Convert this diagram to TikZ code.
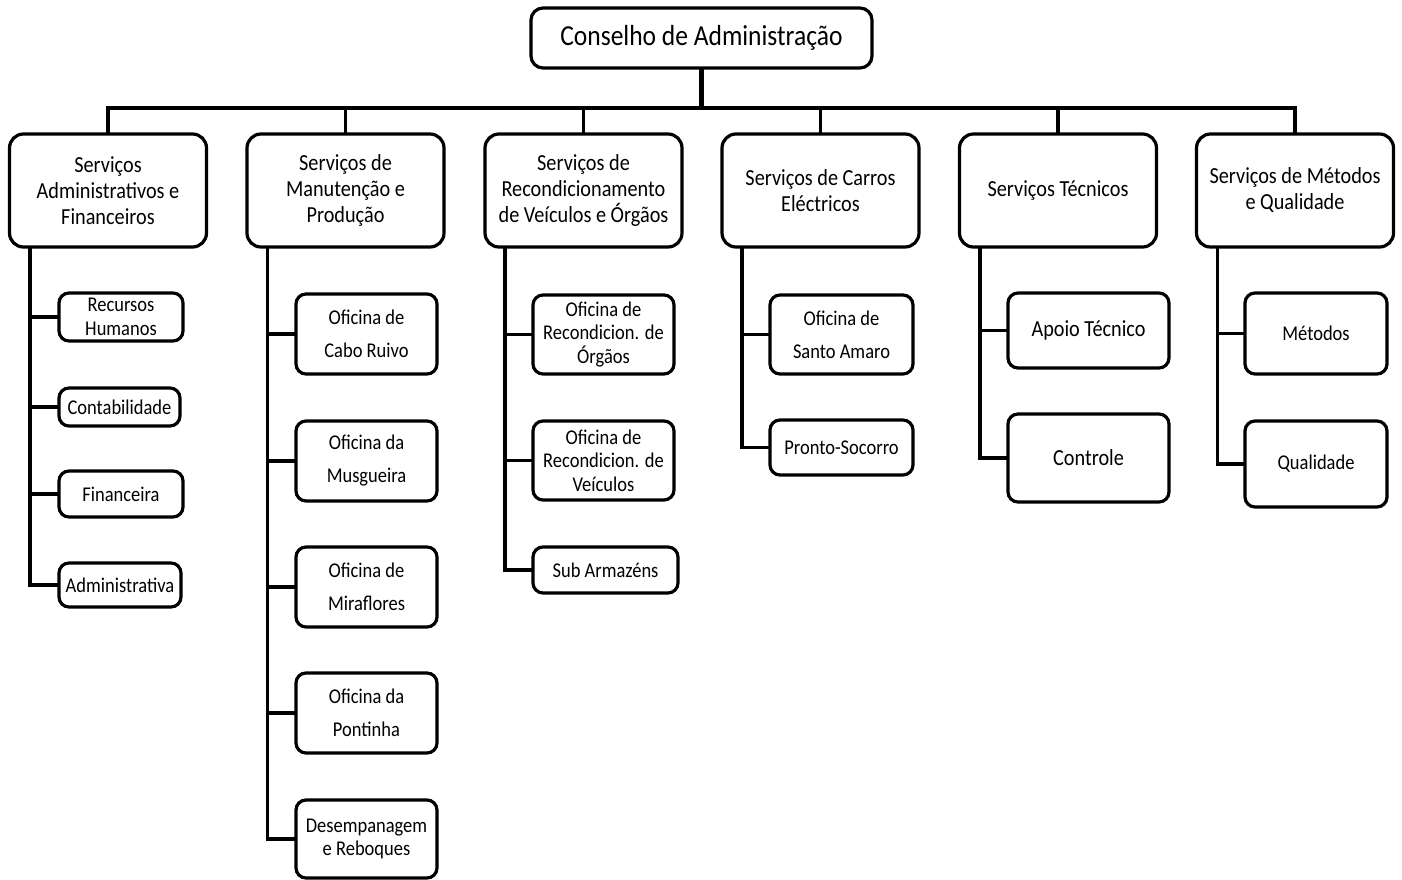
\documentclass[tikz,border=0pt]{standalone}
\usepackage{fontspec}
\setmainfont{Carlito}[FakeStretch=0.88]
\begin{document}
\begin{tikzpicture}[x=1pt,y=-1pt,
  box/.style={draw=black, line width=3.2pt, rounded corners=12pt, fill=white, align=center, inner sep=0pt},
  topbox/.style={box, font=\fontsize{29}{33}\selectfont},
  lone/.style={box, rounded corners=14pt, minimum width=197pt, minimum height=113pt, font=\fontsize{23}{26}\selectfont},
  ltwo/.style={box, rounded corners=10pt, font=\fontsize{21}{23.5}\selectfont},
  wide/.style={font=\fontsize{21}{33}\selectfont},
  big/.style={font=\fontsize{23}{26}\selectfont},
  conn/.style={line width=3.6pt, line cap=rect}
]
\useasboundingbox (0,0) rectangle (1402,879);

% top
\node[topbox, minimum width=341pt, minimum height=60pt] (top) at (701.5,38) {Conselho de Administração};
\coordinate (bus) at (701.5,108);

% level 1
\node[lone] (s1) at (108,190.5) {Serviços\\Administrativos e\\Financeiros};
\node[lone] (s2) at (345.5,190.5) {Serviços de\\Manutenção e\\Produção};
\node[lone] (s3) at (583.5,190.5) {Serviços de\\Recondicionamento\\de Veículos e Órgãos};
\node[lone] (s4) at (820.5,190.5) {Serviços de Carros\\Eléctricos};
\node[lone] (s5) at (1058,190.5) {Serviços Técnicos};
\node[lone] (s6) at (1295,190.5) {Serviços de Métodos\\e Qualidade};

% vertical spine coordinates
\coordinate (v1) at (30,0);
\coordinate (v2) at (267.5,0);
\coordinate (v3) at (505,0);
\coordinate (v4) at (742,0);
\coordinate (v5) at (980,0);
\coordinate (v6) at (1217.5,0);

% children of s1
\node[ltwo, minimum width=124pt, minimum height=48pt] (c11) at (121,317) {Recursos\\Humanos};
\node[ltwo, minimum width=121pt, minimum height=38pt] (c12) at (119.5,407) {Contabilidade};
\node[ltwo, minimum width=124pt, minimum height=46pt] (c13) at (121,494) {Financeira};
\node[ltwo, minimum width=122pt, minimum height=44pt] (c14) at (120,585) {Administrativa};

% children of s2
\node[ltwo, wide, minimum width=141pt, minimum height=80pt] (c21) at (366.5,334) {Oficina de\\Cabo Ruivo};
\node[ltwo, wide, minimum width=141pt, minimum height=80pt] (c22) at (366.5,461) {Oficina da\\Musgueira};
\node[ltwo, wide, minimum width=141pt, minimum height=80pt] (c23) at (366.5,587) {Oficina de\\Miraflores};
\node[ltwo, wide, minimum width=141pt, minimum height=80pt] (c24) at (366.5,713) {Oficina da\\Pontinha};
\node[ltwo, minimum width=141pt, minimum height=78pt] (c25) at (366.5,839) {Desempanagem\\e Reboques};

% children of s3
\node[ltwo, minimum width=141pt, minimum height=79pt] (c31) at (603.5,334.5) {Oficina de\\Recondicion. de\\Órgãos};
\node[ltwo, minimum width=141pt, minimum height=79pt] (c32) at (603.5,460.5) {Oficina de\\Recondicion. de\\Veículos};
\node[ltwo, minimum width=145pt, minimum height=46pt] (c33) at (605.5,570) {Sub Armazéns};

% children of s4
\node[ltwo, wide, minimum width=143pt, minimum height=79pt] (c41) at (841.5,334.5) {Oficina de\\Santo Amaro};
\node[ltwo, minimum width=143pt, minimum height=55pt] (c42) at (841.5,447.5) {Pronto-Socorro};

% children of s5
\node[ltwo, big, minimum width=161pt, minimum height=75pt] (c51) at (1088.5,330.5) {Apoio Técnico};
\node[ltwo, big, minimum width=161pt, minimum height=88pt] (c52) at (1088.5,458) {Controle};

% children of s6
\node[ltwo, minimum width=142pt, minimum height=81pt] (c61) at (1316,333.5) {Métodos};
\node[ltwo, minimum width=142pt, minimum height=86pt] (c62) at (1316,464) {Qualidade};

% top connectors
\draw[conn, line width=4.2pt] (top.south) -- (bus);
\draw[conn] (s1.north) -- (s1.north |- bus) -- (s6.north |- bus) -- (s6.north);
\foreach \s in {s2,s3,s4,s5} \draw[conn] (\s.north) -- (\s.north |- bus);

% spines
\draw[conn] (s1.south -| v1) |- (c14.west);
\foreach \c in {c11,c12,c13} \draw[conn] (\c.west) -- (\c.west -| v1);
\draw[conn] (s2.south -| v2) |- (c25.west);
\foreach \c in {c21,c22,c23,c24} \draw[conn] (\c.west) -- (\c.west -| v2);
\draw[conn] (s3.south -| v3) |- (c33.west);
\foreach \c in {c31,c32} \draw[conn] (\c.west) -- (\c.west -| v3);
\draw[conn] (s4.south -| v4) |- (c42.west);
\draw[conn] (c41.west) -- (c41.west -| v4);
\draw[conn] (s5.south -| v5) |- (c52.west);
\draw[conn] (c51.west) -- (c51.west -| v5);
\draw[conn] (s6.south -| v6) |- (c62.west);
\draw[conn] (c61.west) -- (c61.west -| v6);
\end{tikzpicture}
\end{document}
